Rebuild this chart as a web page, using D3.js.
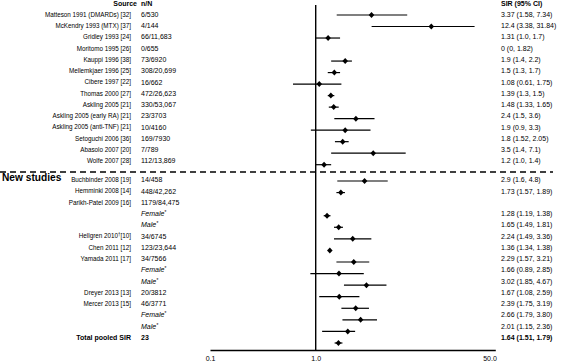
<!DOCTYPE html>
<html lang="en">
<head>
<meta charset="UTF-8">
<title>Forest plot</title>
<style>
  body { margin: 0; background: #fff; }
  text { font-family: "Liberation Sans", Arial, sans-serif; fill: #000; }
</style>
</head>
<body>
<div id="forest"></div>
<script src="https://cdn.jsdelivr.net/npm/d3@7"></script>
<script>

// rows of the forest plot, top to bottom
const sources = ["Matteson 1991 (DMARDs) [32]", "McKendry 1993 (MTX) [37]", "Gridley 1993 [24]",
  "Moritomo 1995 [26]", "Kauppi 1996 [38]", "Mellemkjaer 1996 [25]", "Cibere 1997 [22]",
  "Thomas 2000 [27]", "Askling 2005 [21]", "Askling 2005 (early RA) [21]", "Askling 2005 (anti-TNF) [21]",
  "Setoguchi 2006 [36]", "Abasolo 2007 [20]", "Wolfe 2007 [28]",
  "Buchbinder 2008 [19]", "Hemminki 2008 [14]", "Parikh-Patel 2009 [16]", "", "",
  "Hellgren 2010†[10]", "Chen 2011 [12]", "Yamada 2011 [17]", "", "",
  "Dreyer 2013 [13]", "Mercer 2013 [15]", "", "", "Total pooled SIR"];
const counts = ["6/530", "4/144", "66/11,683", "0/655", "73/6920", "308/20,699", "16/662",
  "472/26,623", "330/53,067", "23/3703", "10/4160", "169/7930", "7/789", "112/13,869",
  "14/458", "448/42,262", "1179/84,475", "Female*", "Male*",
  "34/6745", "123/23,644", "34/7566", "Female*", "Male*",
  "20/3812", "46/3771", "Female*", "Male*", "23"];
const sir   = [3.37, 12.4, 1.31, 0, 1.9, 1.5, 1.08, 1.39, 1.48, 2.4, 1.9, 1.8, 3.5, 1.2,
  2.9, 1.73, null, 1.28, 1.65, 2.24, 1.36, 2.29, 1.66, 3.02, 1.67, 2.39, 2.66, 2.01, 1.64];
const lower = [1.58, 3.38, 1.0, 0, 1.4, 1.3, 0.61, 1.3, 1.33, 1.5, 0.9, 1.52, 1.4, 1.0,
  1.6, 1.57, null, 1.19, 1.49, 1.49, 1.34, 1.57, 0.89, 1.85, 1.08, 1.75, 1.79, 1.15, 1.51];
const upper = [7.34, 31.84, 1.7, 1.82, 2.2, 1.7, 1.75, 1.5, 1.65, 3.6, 3.3, 2.05, 7.1, 1.4,
  4.8, 1.89, null, 1.38, 1.81, 3.36, 1.38, 3.21, 2.85, 4.67, 2.59, 3.19, 3.80, 2.36, 1.79];
const ciLabels = ["3.37 (1.58, 7.34)", "12.4 (3.38, 31.84)", "1.31 (1.0, 1.7)", "0 (0, 1.82)",
  "1.9 (1.4, 2.2)", "1.5 (1.3, 1.7)", "1.08 (0.61, 1.75)", "1.39 (1.3, 1.5)", "1.48 (1.33, 1.65)",
  "2.4 (1.5, 3.6)", "1.9 (0.9, 3.3)", "1.8 (1.52, 2.05)", "3.5 (1.4, 7.1)", "1.2 (1.0, 1.4)",
  "2.9 (1.6, 4.8)", "1.73 (1.57, 1.89)", "", "1.28 (1.19, 1.38)", "1.65 (1.49, 1.81)",
  "2.24 (1.49, 3.36)", "1.36 (1.34, 1.38)", "2.29 (1.57, 3.21)", "1.66 (0.89, 2.85)",
  "3.02 (1.85, 4.67)", "1.67 (1.08, 2.59)", "2.39 (1.75, 3.19)", "2.66 (1.79, 3.80)",
  "2.01 (1.15, 2.36)", "1.64 (1.51, 1.79)"];
const tickValues = [0.1, 1, 50];
const tickLabels = ["0.1", "1.0", "50.0"];

const width = 566, height = 362;
const fsSrc = 6.3, fs = 7;
const last = sources.length - 1;

const svg = d3.select("#forest")
  .append("svg")
    .attr("width", width)
    .attr("height", height);

// log scale for SIR, rows split in two blocks (old / new studies)
const x = d3.scaleLog().domain([0.1, 50]).range([210, 495.3]);
const yText = d3.scaleLinear().domain([0, 13, 14, last]).range([14.5, 161, 180, 337.5]);
const yMark = d3.scaleLinear().domain([0, 13, 14, last]).range([15, 164.7, 181, 343]);
const rows = d3.range(sources.length);

// headers
const head = svg.append("g").attr("font-size", fs).attr("font-weight", "bold");
head.append("text").attr("x", 137).attr("y", 3.5).attr("dy", "0.35em").attr("text-anchor", "end").text("Source");
head.append("text").attr("x", 141).attr("y", 3.5).attr("dy", "0.35em").text("n/N");
head.append("text").attr("x", 501).attr("y", 3.5).attr("dy", "0.35em").text("SIR (95% CI)");

svg.append("text")
  .attr("x", 2).attr("y", 177).attr("dy", "0.35em")
  .attr("font-size", 10.2).attr("font-weight", "bold")
  .text("New studies");

// source column
svg.selectAll("text.src")
  .data(rows)
  .join("text")
    .attr("class", "src")
    .attr("x", 131)
    .attr("y", i => yText(i))
    .attr("dy", "0.35em")
    .attr("text-anchor", "end")
    .attr("font-size", i => i === last ? fs : fsSrc)
    .attr("font-weight", i => i === last ? "bold" : null)
    .each(function(i) {
      const parts = sources[i].split("†");
      const t = d3.select(this);
      t.append("tspan").text(parts[0]);
      if (parts.length > 1) {
        t.append("tspan").attr("font-size", fsSrc * 0.7).attr("baseline-shift", "super").text("†");
        t.append("tspan").text(parts[1]);
      }
    });

// n/N column (subgroups in italic)
svg.selectAll("text.cnt")
  .data(rows)
  .join("text")
    .attr("class", "cnt")
    .attr("x", 141)
    .attr("y", i => yText(i))
    .attr("dy", "0.35em")
    .attr("font-size", fs)
    .attr("font-weight", i => i === last ? "bold" : null)
    .each(function(i) {
      const t = d3.select(this);
      if (counts[i].endsWith("*")) {
        t.attr("font-style", "italic");
        t.append("tspan").text(counts[i].slice(0, -1));
        t.append("tspan").attr("font-size", fs * 0.7).attr("baseline-shift", "super").text("*");
      } else {
        t.text(counts[i]);
      }
    });

// SIR (95% CI) column
svg.selectAll("text.ci")
  .data(rows)
  .join("text")
    .attr("class", "ci")
    .attr("x", 501)
    .attr("y", i => yText(i))
    .attr("dy", "0.35em")
    .attr("font-size", fs)
    .attr("font-weight", i => i === last ? "bold" : null)
    .text(i => ciLabels[i]);

// separator between old and new studies
svg.append("line")
  .attr("x1", 0).attr("x2", 553)
  .attr("y1", 172).attr("y2", 172)
  .attr("stroke", "#000").attr("stroke-width", 1.3)
  .attr("stroke-dasharray", "6,4");

// x axis
svg.append("g")
  .attr("transform", "translate(0,350)")
  .call(d3.axisBottom(x).tickValues(tickValues).tickSize(0).tickSizeOuter(0).tickPadding(6)
    .tickFormat((d, i) => tickLabels[i]))
  .call(g => g.select(".domain").attr("stroke-width", 1.4))
  .call(g => g.selectAll("text").attr("font-size", fs).attr("font-family", "Liberation Sans, Arial, sans-serif"))
  .call(g => g.selectAll(".tick").filter(d => d === 50).select("text").attr("text-anchor", "end").attr("x", 1));

// line of no effect
svg.append("line")
  .attr("x1", x(1)).attr("x2", x(1))
  .attr("y1", 5).attr("y2", 350)
  .attr("stroke", "#000").attr("stroke-width", 1.4);

// confidence intervals and point estimates
const shown = rows.filter(i => sir[i] > 0);

svg.selectAll("line.ci")
  .data(shown)
  .join("line")
    .attr("class", "ci")
    .attr("x1", i => x(lower[i]))
    .attr("x2", i => x(upper[i]))
    .attr("y1", i => yMark(i))
    .attr("y2", i => yMark(i))
    .attr("stroke", "#000")
    .attr("stroke-width", 1.2);

svg.selectAll("path.pt")
  .data(shown)
  .join("path")
    .attr("class", "pt")
    .attr("transform", i => `translate(${x(sir[i])},${yMark(i)})`)
    .attr("d", "M0,-3L2.8,0L0,3L-2.8,0Z")
    .attr("fill", "#000");

</script>
</body>
</html>
